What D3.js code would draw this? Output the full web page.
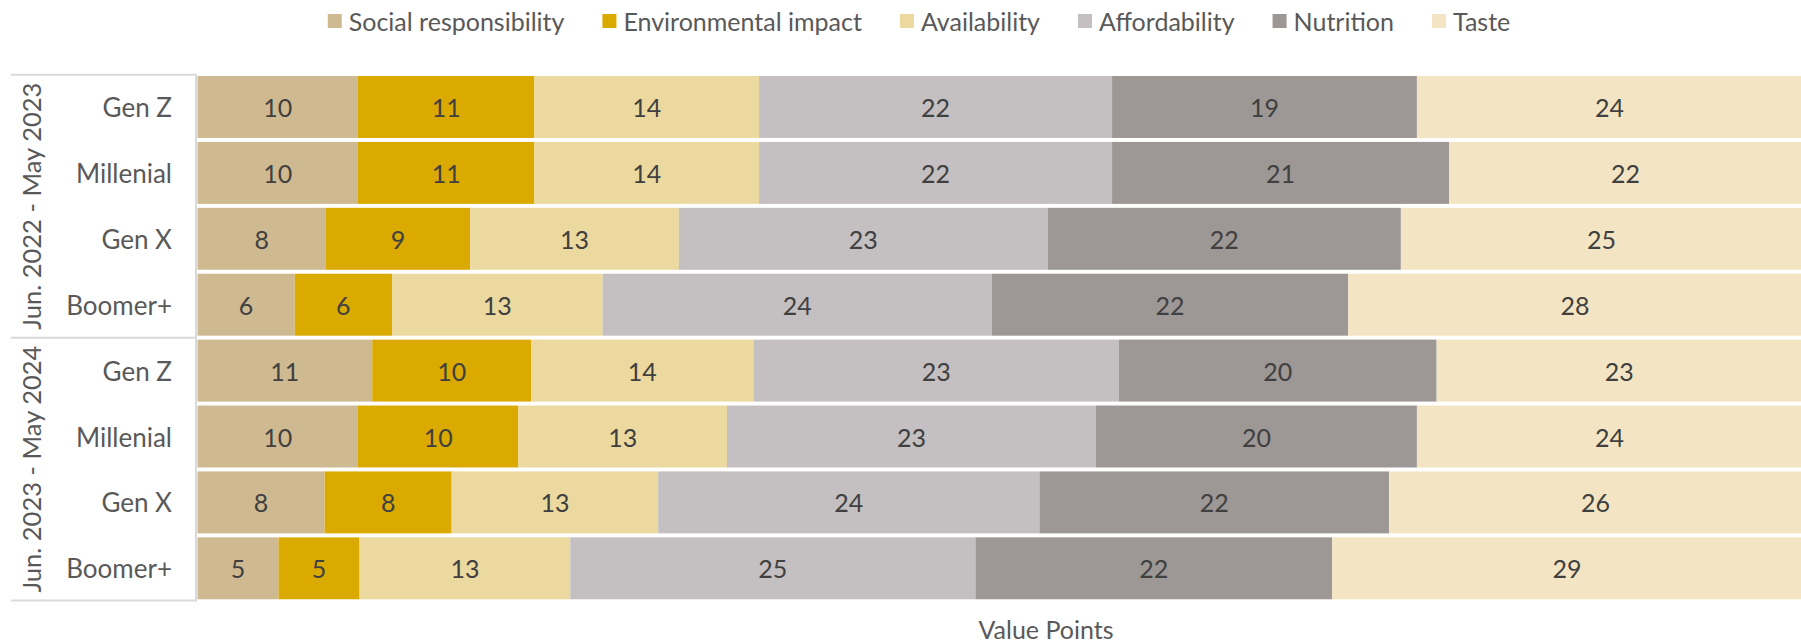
<!DOCTYPE html>
<html>
<head>
<meta charset="utf-8">
<script src="https://cdn.jsdelivr.net/npm/d3@7"></script>
<style>
  html, body { margin: 0; padding: 0; background: #ffffff; overflow: hidden; }
  svg { display: block; font-family: Lato, "Open Sans", sans-serif; }
</style>
</head>
<body>
<svg id="chart" width="1801" height="644"></svg>
<script>
// Survey periods and generations (two-level category axis)
const periods = ["Jun. 2022 - May 2023", "Jun. 2023 - May 2024"];
const generations = ["Gen Z", "Millenial", "Gen X", "Boomer+"];

// Attributes, in stacking order
const seriesNames = ["Social responsibility", "Environmental impact", "Availability", "Affordability", "Nutrition", "Taste"];
const seriesColors = ["#CFB991", "#DAAA00", "#EBD99F", "#C4BFC0", "#9D9795", "#F3E5C3"];

// Value points per row: period 1 (Gen Z, Millenial, Gen X, Boomer+), then period 2
const socialResponsibility = [10, 10, 8, 6, 11, 10, 8, 5];
const environmentalImpact  = [11, 11, 9, 6, 10, 10, 8, 5];
const availability         = [14, 14, 13, 13, 14, 13, 13, 13];
const affordability        = [22, 22, 23, 24, 23, 23, 24, 25];
const nutrition            = [19, 21, 22, 22, 20, 20, 22, 22];
const taste                = [24, 22, 25, 28, 23, 24, 26, 29];

const seriesValues = [socialResponsibility, environmentalImpact, availability, affordability, nutrition, taste];

// Build one record per bar
const rows = [];
periods.forEach((p, pi) => {
  generations.forEach((g, gi) => {
    const i = pi * generations.length + gi;
    const rec = { key: p + "|" + g, period: p, generation: g };
    seriesNames.forEach((s, si) => { rec[s] = seriesValues[si][i]; });
    rows.push(rec);
  });
});

const svg = d3.select("#chart");

const axisColor = "#D9D9D9";
const labelColor = "#595959";
const valueColor = "#404040";

const plotLeft = 197.5, plotRight = 1802;
const plotTop = 74.7, plotBottom = 600.6;

const x = d3.scaleLinear().domain([0, 1]).range([plotLeft, plotRight]);
const y = d3.scaleBand()
  .domain(rows.map(d => d.key))
  .range([plotTop, plotBottom])
  .paddingInner(0.06)
  .paddingOuter(0.02);

// 100% stacked layout
const stack = d3.stack().keys(seriesNames).offset(d3.stackOffsetExpand);
const layers = stack(rows);
const color = d3.scaleOrdinal().domain(seriesNames).range(seriesColors);

const gBars = svg.append("g");
const layerG = gBars.selectAll("g.layer")
  .data(layers)
  .join("g")
  .attr("class", "layer")
  .attr("fill", d => color(d.key));

layerG.selectAll("rect")
  .data(d => d)
  .join("rect")
  .attr("x", d => x(d[0]))
  .attr("y", d => y(d.data.key))
  .attr("width", d => x(d[1]) - x(d[0]))
  .attr("height", y.bandwidth());

// Value labels centred in each segment
const gLabels = svg.append("g");
layers.forEach(layer => {
  gLabels.selectAll(null)
    .data(layer)
    .join("text")
    .attr("x", d => (x(d[0]) + x(d[1])) / 2)
    .attr("y", d => y(d.data.key) + y.bandwidth() / 2)
    .attr("text-anchor", "middle")
    .attr("dominant-baseline", "central")
    .attr("fill", valueColor)
    .attr("font-size", 25)
    .text(d => d.data[layer.key]);
});

// Category axis: generation labels
const gAxis = svg.append("g");
gAxis.selectAll("text.gen")
  .data(rows)
  .join("text")
  .attr("class", "gen")
  .attr("x", 172)
  .attr("y", d => y(d.key) + y.bandwidth() / 2)
  .attr("text-anchor", "end")
  .attr("dominant-baseline", "central")
  .attr("fill", labelColor)
  .attr("font-size", 26)
  .text(d => d.generation);

// Period group labels, rotated
const step = y.step();
const groupBounds = periods.map((p, pi) => {
  const first = rows[pi * generations.length].key;
  const last = rows[(pi + 1) * generations.length - 1].key;
  const top = pi === 0 ? plotTop : y(first) - step * y.paddingInner() / 2;
  const bottom = pi === periods.length - 1 ? plotBottom : y(last) + y.bandwidth() + step * y.paddingInner() / 2;
  return { period: p, top, bottom };
});

gAxis.selectAll("text.period")
  .data(groupBounds)
  .join("text")
  .attr("class", "period")
  .attr("transform", d => `translate(31,${(d.top + d.bottom) / 2}) rotate(-90)`)
  .attr("text-anchor", "middle")
  .attr("dominant-baseline", "central")
  .attr("fill", labelColor)
  .attr("font-size", 25.5)
  .text(d => d.period);

// Group divider lines across the label area
const dividers = [plotTop].concat(groupBounds.map(d => d.bottom));
gAxis.selectAll("line.divider")
  .data(dividers)
  .join("line")
  .attr("class", "divider")
  .attr("x1", 11)
  .attr("x2", plotLeft - 1)
  .attr("y1", d => d)
  .attr("y2", d => d)
  .attr("stroke", axisColor)
  .attr("stroke-width", 2);

// Vertical axis line
gAxis.append("line")
  .attr("x1", plotLeft - 1.5)
  .attr("x2", plotLeft - 1.5)
  .attr("y1", plotTop - 1)
  .attr("y2", plotBottom + 1)
  .attr("stroke", axisColor)
  .attr("stroke-width", 2);

// Axis title
svg.append("text")
  .attr("x", 1046)
  .attr("y", 629)
  .attr("text-anchor", "middle")
  .attr("dominant-baseline", "central")
  .attr("fill", labelColor)
  .attr("font-size", 25)
  .text("Value Points");

// Legend, laid out in a single centred row
const legend = svg.append("g");
const items = legend.selectAll("g.item")
  .data(seriesNames)
  .join("g")
  .attr("class", "item");

items.append("rect")
  .attr("width", 14)
  .attr("height", 14)
  .attr("y", 14)
  .attr("fill", d => color(d));

items.append("text")
  .attr("x", 21)
  .attr("y", 21)
  .attr("dominant-baseline", "central")
  .attr("fill", labelColor)
  .attr("font-size", 25)
  .text(d => d);

let cursor = 0;
const gap = 38;
items.each(function () {
  const w = 21 + d3.select(this).select("text").node().getComputedTextLength();
  d3.select(this).attr("transform", `translate(${cursor},0)`);
  cursor += w + gap;
});
const legendWidth = cursor - gap;
legend.attr("transform", `translate(${919 - legendWidth / 2},0)`);
</script>
</body>
</html>
